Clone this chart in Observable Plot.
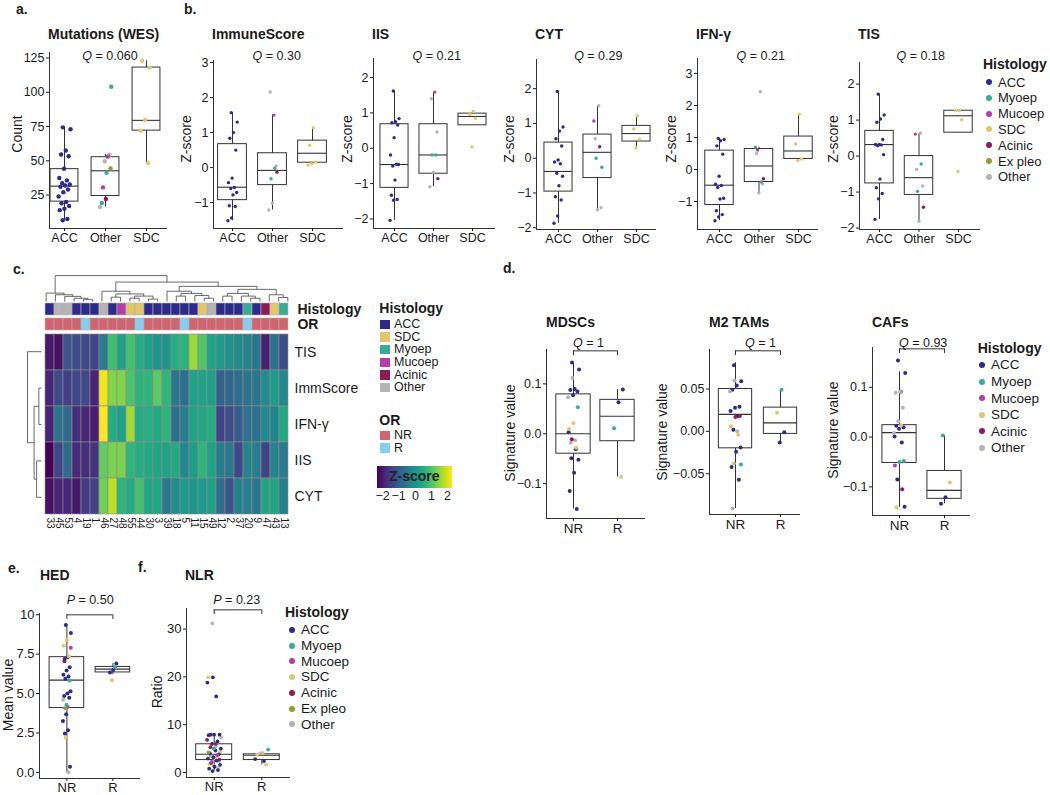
<!DOCTYPE html>
<html><head><meta charset="utf-8">
<script src="https://cdn.jsdelivr.net/npm/d3@7"></script>
<script src="https://cdn.jsdelivr.net/npm/@observablehq/plot@0.6"></script>
<style>
body{margin:0;background:#fff;}
#root{position:relative;width:1050px;height:795px;overflow:hidden;font-family:"Liberation Sans",Arial,Helvetica,sans-serif;color:#1a1a1a;background:#fff;}
.abs{position:absolute;white-space:nowrap;line-height:1;}
#cbar line{display:none;}
</style></head><body><div id="root"></div>
<script>
// ---------------- DATA ----------------
const histNames = ["ACC","Myoep","Mucoep","SDC","Acinic","Ex pleo","Other"];
const histColors = ["#2c2b8b","#37ad97","#b13fa7","#e2c66b","#8b1c55","#9a992c","#b4b4b4"];
const orNames = ["NR","R"];
const orColors = ["#d0646f","#87cdee"];

const histGroups = ["ACC","Other","SDC"];
const respGroups = ["NR","R"];

// box stats per group: [lower whisker, q1, median, q3, upper whisker]
const mutBox = [[6.6,20.2,31.5,43.9,74.4],[16.3,24.3,42.7,52.6,54.4],[48.3,72,79.5,118,123]];
const immBox = [[-1.52,-0.93,-0.56,0.67,1.57],[-1.21,-0.50,-0.08,0.41,1.50],[0.07,0.14,0.41,0.77,1.14]];
const iisBox = [[-2.04,-1.12,-0.46,0.68,1.62],[-1.09,-0.72,-0.19,0.68,1.57],[0.65,0.65,0.90,0.98,1.04]];
const cytBox = [[-1.87,-0.96,-0.38,0.45,1.92],[-1.48,-0.57,0.17,0.68,1.51],[0.30,0.48,0.71,0.93,1.22]];
const ifnBox = [[-1.6,-1.11,-0.49,0.59,0.97],[-0.73,-0.39,0.11,0.64,0.70],[0.28,0.33,0.58,1.03,1.73]];
const tisBox = [[-1.76,-0.76,0.32,0.70,1.72],[-1.81,-1.08,-0.6,0.0,0.63],[0.65,0.65,1.12,1.26,1.26]];
const mdscBox = [[-0.151,-0.04,0.0,0.079,0.14],[-0.087,-0.015,0.035,0.068,0.089]];
const m2Box = [[-0.091,-0.020,0.020,0.050,0.081],[-0.013,-0.003,0.010,0.028,0.05]];
const cafBox = [[-0.141,-0.052,0.009,0.024,0.131],[-0.134,-0.124,-0.107,-0.068,0.003]];
const hedBox = [[0.0,4.08,5.85,7.31,9.35],[6.2,6.34,6.55,6.69,6.9]];
const nlrBox = [[0.3,2.6,3.8,5.9,7.9],[1.6,2.6,3.6,3.8,4.1]];

// points: [group, histology, values]
const mutPts = [
 ["ACC","ACC",[74.4,73,57.5,54.6,53.3,44.2,37.4,35.7,33.7,32.7,32,31,29,27,24,20,19,17,15,14,7.5,6.6]],
 ["Other","Myoep",[104,41.3,19.2]],["Other","Other",[54.4,49.7,16.3]],["Other","Mucoep",[53,30.6]],["Other","Ex pleo",[44.4]],["Other","Acinic",[22.1]],
 ["SDC","SDC",[123,118,79.8,72,48.3]]
];
const immPts = [
 ["ACC","ACC",[1.57,1.30,1.0,0.84,0.50,-0.30,-0.43,-0.57,-0.6,-0.71,-0.78,-1.09,-1.11,-1.44,-1.52]],
 ["Other","Mucoep",[1.50]],["Other","Other",[2.16,0.05,-1.02,-1.21]],["Other","Myoep",[-0.02,-0.32]],["Other","Acinic",[-0.13]],
 ["SDC","SDC",[1.14,0.64,0.16,0.11,0.07]]
];
const iisPts = [
 ["ACC","ACC",[1.62,0.84,0.75,0.72,0.66,0.30,-0.19,-0.45,-0.5,-0.46,-0.9,-1.33,-1.45,-1.47,-2.04]],
 ["Other","Mucoep",[1.59]],["Other","Other",[1.40,0.46,-0.68,-1.09]],["Other","Myoep",[-0.19,-0.19]],["Other","Acinic",[-0.86]],
 ["SDC","SDC",[1.04,0.96,0.85,0.04]]
];
const cytPts = [
 ["ACC","ACC",[1.92,0.90,0.78,0.56,0.35,-0.05,-0.11,-0.16,-0.43,-0.52,-0.79,-1.11,-1.2,-1.66,-1.87]],
 ["Other","Other",[1.51,0.56,-1.42,-1.48]],["Other","Mucoep",[1.07]],["Other","Acinic",[0.33]],["Other","Myoep",[0.0,-0.26]],
 ["SDC","SDC",[1.22,0.84,0.55,0.30]]
];
const ifnPts = [
 ["ACC","ACC",[0.97,0.94,0.90,0.74,0.48,-0.21,-0.46,-0.5,-0.56,-0.9,-0.92,-1.29,-1.41,-1.48,-1.6]],
 ["Other","Other",[2.43,0.50,-0.45,-0.73]],["Other","Myoep",[0.70,-0.39]],["Other","Mucoep",[0.61]],["Other","Acinic",[-0.29]],
 ["SDC","SDC",[1.73,0.80,0.33,0.28]]
];
const tisPts = [
 ["ACC","ACC",[1.72,1.14,1.03,0.94,0.46,0.32,0.32,0.31,0.29,0.04,-0.64,-0.88,-1.04,-1.19,-1.76]],
 ["Other","Other",[0.64,-0.37,-0.83,-1.81]],["Other","Mucoep",[0.61]],["Other","Myoep",[-0.22,-0.98]],["Other","Acinic",[-1.42]],
 ["SDC","SDC",[1.26,1.26,1.01,-0.43]]
];
const mdscPts = [
 ["NR","ACC",[0.143,0.129,0.09,0.088,0.085,0.077,0.003,-0.031,-0.049,-0.052,-0.078,-0.115,-0.151]],
 ["NR","Other",[0.112,0.073,-0.013,-0.018]],["NR","Myoep",[0.053]],["NR","SDC",[0.021,0.010,-0.028]],["NR","Acinic",[-0.011]],
 ["R","ACC",[0.089,0.063]],["R","Myoep",[0.011]],["R","SDC",[-0.087]]
];
const m2Pts = [
 ["NR","ACC",[0.078,0.059,0.054,0.049,0.029,0.028,0.024,0.018,0.002,-0.019,-0.024,-0.042,-0.057]],
 ["NR","Other",[0.060,0.047,0.0,-0.091]],["NR","Acinic",[0.018,0.017]],["NR","SDC",[0.006,-0.004,-0.038]],["NR","Myoep",[-0.039]],
 ["R","Myoep",[0.049]],["R","SDC",[0.022]],["R","ACC",[-0.001,-0.013]]
];
const cafPts = [
 ["NR","ACC",[0.154,0.129,0.091,0.023,0.020,0.017,0.001,-0.011,-0.085,-0.14]],
 ["NR","Other",[0.091,0.089,0.059,0.032,0.008]],["NR","SDC",[0.024,-0.141]],["NR","Myoep",[-0.048,-0.050]],["NR","Mucoep",[-0.057]],["NR","Acinic",[-0.105]],
 ["R","Myoep",[0.003]],["R","SDC",[-0.091]],["R","ACC",[-0.121,-0.134]]
];
const hedPts = [
 ["NR","ACC",[9.35,8.84,7.3,7.2,6.67,6.46,6.2,6.08,5.94,5.14,5.0,4.84,4.74,3.68,3.26,2.67,2.46,0.36]],
 ["NR","SDC",[8.4,8.04,7.37,2.21]],["NR","Mucoep",[7.9,4.15]],["NR","Acinic",[7.05]],["NR","Myoep",[5.83,4.29]],["NR","Other",[4.61,0.0]],["NR","Ex pleo",[4.06]],
 ["R","ACC",[6.9,6.5,6.34]],["R","Myoep",[6.67]],["R","SDC",[5.85]]
];
const nlrPts = [
 ["NR","Other",[31.2,7.3,5.5,3.5,2.4,1.4]],["NR","SDC",[19.9,6.2,5.8,4.4,3.0,1.8,1.0]],
 ["NR","ACC",[19.9,18.8,15.9,7.9,7.9,7.9,7.8,6.5,6.0,5.0,4.6,4.0,3.8,3.2,2.9,2.5,2.0,1.6,1.2,0.8,0.5,0.3]],
 ["NR","Acinic",[6.8,6.0,5.3,2.7]],["NR","Myoep",[5.0]],["NR","Ex pleo",[4.2]],["NR","Mucoep",[3.6,2.2]],
 ["R","Myoep",[4.8]],["R","SDC",[4.1,3.8,1.6]],["R","Other",[4.0]],["R","ACC",[2.8,2.4]]
];

const qTop = ["0.060","0.30","0.21","0.29","0.21","0.18"];
const qSig = ["1","1","0.93"];
const pVals = ["0.50","0.23"];

// heatmap
const colIds = ["33","45","53","4","19","1","46","27","48","55","44","30","3","39","18","5","11","15","49","12","2","37","20","9","47","43","13"];
const colHist = ["ACC","Other","Other","ACC","ACC","ACC","Other","ACC","Mucoep","SDC","SDC","ACC","ACC","ACC","ACC","ACC","ACC","SDC","Other","ACC","ACC","ACC","Myoep","ACC","Acinic","SDC","Myoep"];
const colOR = ["NR","NR","NR","NR","R","NR","NR","NR","NR","NR","R","NR","NR","NR","NR","R","NR","NR","NR","NR","NR","NR","R","NR","NR","NR","NR"];
const rowNames = ["TIS","ImmScore","IFN-γ","IIS","CYT"];
const tisZ = [-2.0,-2.1,-1.1,-1.2,-1.3,-1.35,-0.4,0.9,0.3,0.95,0.55,0.3,0.1,0.1,0.6,0.65,1.6,1.05,0.35,0.2,0.05,-0.1,-0.25,-0.5,-1.9,-0.6,-1.2];
const immZ = [-1.8,-1.3,-1.45,-1.3,-1.3,-1.85,2.2,1.45,1.45,1.0,0.65,0.7,1.15,0.7,-0.5,-0.65,0.3,0.35,0.3,-0.85,-0.8,-0.7,-0.55,-0.5,-0.1,0.2,-0.15];
const ifnZ = [-1.85,-0.55,-0.75,-1.7,-1.8,-1.95,2.4,0.55,0.3,1.65,0.55,0.55,0.5,0.7,-0.65,-0.35,0.35,0.45,0.55,-1.4,-1.2,-0.95,-0.6,-0.6,-0.1,-0.2,0.5];
const iisZ = [-2.3,-1.35,-0.75,-1.75,-1.7,-1.65,1.2,1.4,1.4,0.7,0.55,0.5,0.4,0.4,0.5,-0.15,0.25,0.7,0.35,-0.35,-0.45,-1.3,-0.25,-0.35,-1.35,-0.2,-0.4];
const cytZ = [-2.1,-1.85,-1.8,-2.0,-1.5,-1.4,1.3,1.85,0.7,0.5,0.95,0.4,0.45,-0.45,-0.1,0.2,0.1,0.2,0.3,-0.7,-1.1,-0.3,-0.35,-0.5,0.4,0.4,-0.3];
// dendrograms: [height, left, right]; leaves are column / row indices
const colTree = [0.96,
  [0.31, 0, [0.25, 1, [0.19, 2, [0.12, 3, [0.07, 4, 5]]]]],
  [0.72,
    [0.38, 6, [0.28, [0.16, 7, 8], [0.2, [0.12, 9, 10], [0.09, 11, 12]]]],
    [0.56,
      [0.38, 13, [0.3, [0.2, 14, 15], [0.22, 16, [0.12, 17, 18]]]],
      [0.45, [0.3, [0.2, 19, 20], [0.2, 21, [0.12, 22, 23]]], [0.25, 24, [0.15, 25, 26]]]]]];
const rowTree = [1.0, 0, [0.53, [0.19, 1, 2], [0.35, 3, 4]]];
const zTicks = [-2,-1,0,1,2];

// ---------------- HELPERS ----------------
const FONT = '"Liberation Sans", Arial, Helvetica, sans-serif';
const LINE = "#333";
const intFmt = d3.format("d");
const root = document.getElementById("root");
function txt(x, y, s, o = {}) {
  const size = o.size || 12;
  const d = document.createElement("div");
  d.className = "abs";
  d.style.fontSize = size + "px";
  if (o.bold) d.style.fontWeight = "bold";
  if (o.color) d.style.color = o.color;
  d.innerHTML = s;
  d.style.left = x + "px";
  d.style.top = (y - 0.85 * size) + "px";
  const tx = o.anchor === "middle" ? "-50%" : o.anchor === "end" ? "-100%" : "0";
  d.style.transform = `translateX(${tx})`;
  root.appendChild(d);
  return d;
}
function vtxt(x, yc, s, size) {
  const d = document.createElement("div");
  d.className = "abs";
  d.style.fontSize = size + "px";
  d.textContent = s;
  d.style.left = x + "px";
  d.style.top = yc + "px";
  d.style.transform = "translate(-50%,-50%) rotate(-90deg)";
  root.appendChild(d);
}
function place(el, left, top) {
  el.style.position = "absolute";
  el.style.left = left + "px";
  el.style.top = top + "px";
  root.appendChild(el);
}
function jit(i) { return ((i * 0.6180339887 + 0.37) % 1) * 2 - 1; }

function boxPanel(o) {
  const ml = 44, mr = 6, mt = 6, mb = 24;
  const x0 = 1 - o.first / o.step, x1 = x0 + o.W / o.step;
  const boxes = o.box.map((b, i) => ({x: i + 1, lo: b[0], q1: b[1], med: b[2], q3: b[3], hi: b[4]}));
  let k = 0;
  const pts = o.pts.flatMap(([g, h, vs]) => vs.map(v => ({x: o.groups.indexOf(g) + 1 + jit(k++) * o.jit, h, v})));
  const span = o.yDomain[1] - o.yDomain[0];
  const bw = o.bw;
  const marks = [
    Plot.ruleX(boxes, {x: "x", y1: "lo", y2: "q1", stroke: LINE, strokeWidth: 1}),
    Plot.ruleX(boxes, {x: "x", y1: "q3", y2: "hi", stroke: LINE, strokeWidth: 1}),
    Plot.rect(boxes, {x1: d => d.x - bw, x2: d => d.x + bw, y1: "q1", y2: "q3", fill: "none", stroke: LINE, strokeWidth: 1}),
    Plot.ruleY(boxes, {y: "med", x1: d => d.x - bw, x2: d => d.x + bw, stroke: LINE, strokeWidth: 1.1}),
    Plot.dot(pts, {x: "x", y: "v", fill: "h", r: o.r}),
    Plot.ruleX([x0], {stroke: LINE, strokeWidth: 1}),
    Plot.ruleY([o.yDomain[0]], {stroke: LINE, strokeWidth: 1}),
    Plot.axisY({ticks: o.yTicks, tickFormat: o.yFmt || intFmt, tickSize: 3, tickPadding: 2, fontSize: o.tf, label: null}),
    Plot.axisX({ticks: o.groups.map((g, i) => i + 1), tickFormat: d => o.groups[d - 1], tickSize: 3, tickPadding: o.tp ?? 2, fontSize: o.lf, label: null})
  ];
  if (o.bracket) {
    const yb = o.yDomain[1] - 0.008 * span, tk = 0.028 * span;
    marks.push(Plot.ruleY([yb], {x1: 1, x2: 2, stroke: LINE, strokeWidth: 1}));
    marks.push(Plot.ruleX([1, 2], {y1: yb, y2: yb - tk, stroke: LINE, strokeWidth: 1}));
  }
  const svg = Plot.plot({
    width: o.W + ml + mr, height: o.H + mt + mb,
    marginLeft: ml, marginRight: mr, marginTop: mt, marginBottom: mb,
    x: {domain: [x0, x1]}, y: {domain: o.yDomain},
    color: {domain: histNames, range: histColors},
    style: {fontFamily: FONT, color: "#1a1a1a", background: "transparent", overflow: "visible"},
    marks
  });
  place(svg, o.L - ml, o.T - mt);
}

function dotLegend(titleX, titleY, dotX, textX, y0, dy, names, size) {
  txt(titleX, titleY, "Histology", {size: 14, bold: true});
  names.forEach((n, i) => {
    const cy = y0 + i * dy;
    const d = document.createElement("div");
    d.className = "abs";
    Object.assign(d.style, {left: (dotX - 3) + "px", top: (cy - 3) + "px", width: "6px", height: "6px", borderRadius: "50%", background: histColors[histNames.indexOf(n)]});
    root.appendChild(d);
    txt(textX, cy + 0.36 * size, n, {size});
  });
}
function dendroSegs(tree) {
  const segs = [];
  (function walk(n) {
    if (typeof n === "number") return {p: n, h: 0};
    const [h, a, b] = n;
    const A = walk(a), B = walk(b);
    segs.push({p1: A.p, h1: h, p2: B.p, h2: h});
    segs.push({p1: A.p, h1: A.h, p2: A.p, h2: h});
    segs.push({p1: B.p, h1: B.h, p2: B.p, h2: h});
    return {p: (A.p + B.p) / 2, h};
  })(tree);
  return segs;
}

// ---------------- PANEL LETTERS & TITLES ----------------
txt(16, 13.5, "a.", {size: 14, bold: true});
txt(184, 14, "b.", {size: 14, bold: true});
txt(13, 274, "c.", {size: 14, bold: true});
txt(503, 273, "d.", {size: 14, bold: true});
txt(8, 573, "e.", {size: 14, bold: true});
txt(138, 572, "f.", {size: 14, bold: true});

const topPanels = [
  {title: "Mutations (WES)", L: 49, T: 52, W: 118, H: 176, box: mutBox, pts: mutPts, yDomain: [0.6, 129], yTicks: [25,50,75,100,125], first: 15, step: 41, bw: 0.34, jit: 0.15, r: 2.2, qx: 110, yl: "Count", ylx: 16.7, yly: 134},
  {title: "ImmuneScore", L: 213, T: 60, W: 130, H: 168, box: immBox, pts: immPts, yDomain: [-1.74, 3.06], yTicks: [-1,0,1,2,3], first: 19, step: 40, bw: 0.36, jit: 0.12, r: 1.7, qx: 276.7, yl: "Z-score", ylx: 186, yly: 139},
  {title: "IIS", L: 373, T: 58, W: 122, H: 170, box: iisBox, pts: iisPts, yDomain: [-2.27, 2.54], yTicks: [-2,-1,0,1,2], first: 21, step: 39, bw: 0.36, jit: 0.12, r: 1.7, qx: 436.7, yl: "Z-score", ylx: 347, yly: 139},
  {title: "CYT", L: 536, T: 59, W: 120, H: 170, box: cytBox, pts: cytPts, yDomain: [-2.05, 2.84], yTicks: [-2,-1,0,1,2], first: 22, step: 39, bw: 0.36, jit: 0.12, r: 1.7, qx: 598.3, yl: "Z-score", ylx: 509, yly: 139},
  {title: "IFN-γ", L: 697, T: 58, W: 121, H: 171, box: ifnBox, pts: ifnPts, yDomain: [-1.875, 3.47], yTicks: [-1,0,1,2,3], first: 22, step: 39.5, bw: 0.36, jit: 0.12, r: 1.7, qx: 760.7, yl: "Z-score", ylx: 671, yly: 139},
  {title: "TIS", L: 859, T: 62, W: 121, H: 167, box: tisBox, pts: tisPts, yDomain: [-2.04, 2.6], yTicks: [-2,-1,0,1,2], first: 20, step: 39.5, bw: 0.36, jit: 0.12, r: 1.7, qx: 920.7, yl: "Z-score", ylx: 833, yly: 139}
];
topPanels.forEach((p, i) => {
  boxPanel({...p, groups: histGroups, tf: 12.5, lf: 12.5});
  txt(p.L - 1, 39.3, p.title, {size: 14, bold: true});
  txt(p.qx, 60.3, "<i>Q</i> = " + qTop[i], {size: 12.5, anchor: "middle"});
  vtxt(p.ylx, p.yly, p.yl, 14);
});
dotLegend(983, 69.3, 989, 998, 82, 15.8, histNames, 13);

// ---------------- PANEL d ----------------
const dPanels = [
  {title: "MDSCs", L: 546, T: 349, W: 99, H: 169, box: mdscBox, pts: mdscPts, yDomain: [-0.170, 0.169], yTicks: [-0.1,0,0.1], yFmt: d3.format(".1f"), first: 27, step: 44, bw: 0.39, qx: 573, ylx: 510, yly: 433},
  {title: "M2 TAMs", L: 709, T: 349, W: 91, H: 165, box: m2Box, pts: m2Pts, yDomain: [-0.0981, 0.0966], yTicks: [-0.05,0,0.05], yFmt: d3.format(".2f"), first: 26, step: 45, bw: 0.37, qx: 745, ylx: 661.7, yly: 432},
  {title: "CAFs", L: 872, T: 347, W: 98, H: 168, box: cafBox, pts: cafPts, yDomain: [-0.1575, 0.18], yTicks: [-0.1,0,0.1], yFmt: d3.format(".1f"), first: 27, step: 45, bw: 0.38, qx: 899, ylx: 833.3, yly: 430}
];
dPanels.forEach((p, i) => {
  boxPanel({...p, groups: respGroups, jit: 0.13, r: 2, tf: 12.5, lf: 13.5, bracket: true});
  txt(p.L, 326.7, p.title, {size: 14, bold: true});
  txt(p.qx, 347.3, "<i>Q</i> = " + qSig[i], {size: 12.5});
  vtxt(p.ylx, p.yly, "Signature value", 14);
});
dotLegend(977.7, 353, 981.5, 991, 365, 16.6, ["ACC","Myoep","Mucoep","SDC","Acinic","Other"], 13.5);

// ---------------- PANELS e, f ----------------
boxPanel({L: 39.3, T: 612.7, W: 101, H: 165, box: hedBox, pts: hedPts, groups: respGroups, yDomain: [-0.39, 10.08], yTicks: [0,2.5,5,7.5,10],
  yFmt: d => d === 10 ? "10" : d3.format(".1f")(d), first: 27.4, step: 46, bw: 0.376, jit: 0.09, r: 2, tf: 13, lf: 13, tp: 1, bracket: true});
txt(40, 580, "HED", {size: 14, bold: true});
txt(66.7, 604.3, "<i>P</i> = " + pVals[0], {size: 12.5});
vtxt(8, 695, "Mean value", 14);

boxPanel({L: 186, T: 608.3, W: 104, H: 169, box: nlrBox, pts: nlrPts, groups: respGroups, yDomain: [-1.05, 34.3], yTicks: [0,10,20,30],
  first: 27.7, step: 47.6, bw: 0.378, jit: 0.15, r: 1.9, tf: 13, lf: 13, tp: 1, bracket: true});
txt(185, 580, "NLR", {size: 14, bold: true});
txt(213.3, 604.3, "<i>P</i> = " + pVals[1], {size: 12.5});
vtxt(157, 692, "Ratio", 14);
dotLegend(285, 617.3, 291.7, 301, 630, 15.7, histNames, 13.5);

// ---------------- PANEL c : HEATMAP ----------------
const heatRows = [tisZ, immZ, ifnZ, iisZ, cytZ];
const cells = heatRows.flatMap((arr, r) => arr.map((v, c) => ({col: colIds[c], row: rowNames[r], v})));
const heat = Plot.plot({
  width: 251 + 80, height: 182 + 20, marginLeft: 0, marginRight: 80, marginTop: 0, marginBottom: 20,
  x: {domain: colIds, padding: 0}, y: {domain: rowNames, padding: 0},
  color: {type: "linear", scheme: "viridis", domain: [-2.3, 2.3]},
  style: {fontFamily: FONT, color: "#1a1a1a", background: "transparent", overflow: "visible"},
  marks: [
    Plot.cell(cells, {x: "col", y: "row", fill: "v", stroke: "#8e8e8e", strokeWidth: 0.6, inset: 0}),
    Plot.axisX({anchor: "bottom", tickSize: 0, tickPadding: 2, tickRotate: 90, fontSize: 10, label: null}),
    Plot.axisY({anchor: "right", tickSize: 0, tickPadding: 2, fontSize: 14, label: null})
  ]
});
place(heat, 41, 333.3);

const annRows = colIds.flatMap((c, i) => [{col: c, row: "Histology", k: colHist[i]}, {col: c, row: "OR", k: colOR[i]}]);
const ann = Plot.plot({
  width: 251 + 80, height: 28.3, marginLeft: 0, marginRight: 80, marginTop: 0, marginBottom: 0,
  x: {domain: colIds, padding: 0, axis: null},
  y: {domain: ["Histology", "OR"], paddingInner: 0.19, paddingOuter: 0},
  color: {domain: [...histNames, ...orNames], range: [...histColors, ...orColors]},
  style: {fontFamily: FONT, color: "#1a1a1a", background: "transparent", overflow: "visible"},
  marks: [
    Plot.cell(annRows, {x: "col", y: "row", fill: "k", stroke: "#b0b0b0", strokeWidth: 0.6, inset: 0}),
    Plot.axisY({anchor: "right", tickSize: 0, tickPadding: 5, fontSize: 14, fontWeight: "bold", label: null})
  ]
});
place(ann, 41, 301.7);

const colDendro = Plot.plot({
  width: 251, height: 27, marginLeft: 0, marginRight: 0, marginTop: 0, marginBottom: 0,
  x: {domain: [-0.5, colIds.length - 0.5], axis: null}, y: {domain: [0, 1], axis: null},
  style: {background: "transparent", overflow: "visible"},
  marks: [Plot.link(dendroSegs(colTree), {x1: "p1", y1: "h1", x2: "p2", y2: "h2", stroke: "#444", strokeWidth: 0.8})]
});
place(colDendro, 41, 274);

const rowDendro = Plot.plot({
  width: 14, height: 182, marginLeft: 0, marginRight: 0, marginTop: 0, marginBottom: 0,
  x: {domain: [1, 0], axis: null}, y: {domain: [rowNames.length - 0.5, -0.5], axis: null},
  style: {background: "transparent", overflow: "visible"},
  marks: [Plot.link(dendroSegs(rowTree), {x1: "h1", y1: "p1", x2: "h2", y2: "p2", stroke: "#444", strokeWidth: 0.8})]
});
place(rowDendro, 27, 333.3);

// heatmap legends
const heatLegHist = ["ACC","SDC","Myoep","Mucoep","Acinic","Other"];
txt(379.3, 313.3, "Histology", {size: 14, bold: true});
heatLegHist.forEach((n, i) => {
  const cy = 324.3 + i * 12.65;
  const d = document.createElement("div");
  d.className = "abs";
  Object.assign(d.style, {left: "380px", top: (cy - 4.7) + "px", width: "9.5px", height: "9.5px", background: histColors[histNames.indexOf(n)]});
  root.appendChild(d);
  txt(394, cy + 4.5, n, {size: 12.5});
});
txt(379.3, 425, "OR", {size: 14, bold: true});
orNames.forEach((n, i) => {
  const cy = 435.3 + i * 12.65;
  const d = document.createElement("div");
  d.className = "abs";
  Object.assign(d.style, {left: "380px", top: (cy - 4.7) + "px", width: "9.5px", height: "9.5px", background: orColors[i]});
  root.appendChild(d);
  txt(394, cy + 4.5, n, {size: 12.5});
});
const cwrap = document.createElement("div");
cwrap.id = "cbar";
cwrap.style.width = "89px";
const cbar = Plot.legend({
  color: {type: "linear", scheme: "viridis", domain: [-2.3, 2.3], ticks: zTicks, tickFormat: intFmt, label: null},
  ticks: zTicks, tickFormat: intFmt, label: null,
  width: 89, height: 40, marginTop: 0, marginBottom: 18, marginLeft: 7, marginRight: 7, tickSize: 0,
  style: {fontFamily: FONT, fontSize: "12.5px", color: "#1a1a1a", background: "transparent", overflow: "visible"}
});
cwrap.appendChild(cbar);
place(cwrap, 369.7, 466);
txt(414.3, 481, "Z-score", {size: 14, bold: true, anchor: "middle", color: "#222"});
</script></body></html>
